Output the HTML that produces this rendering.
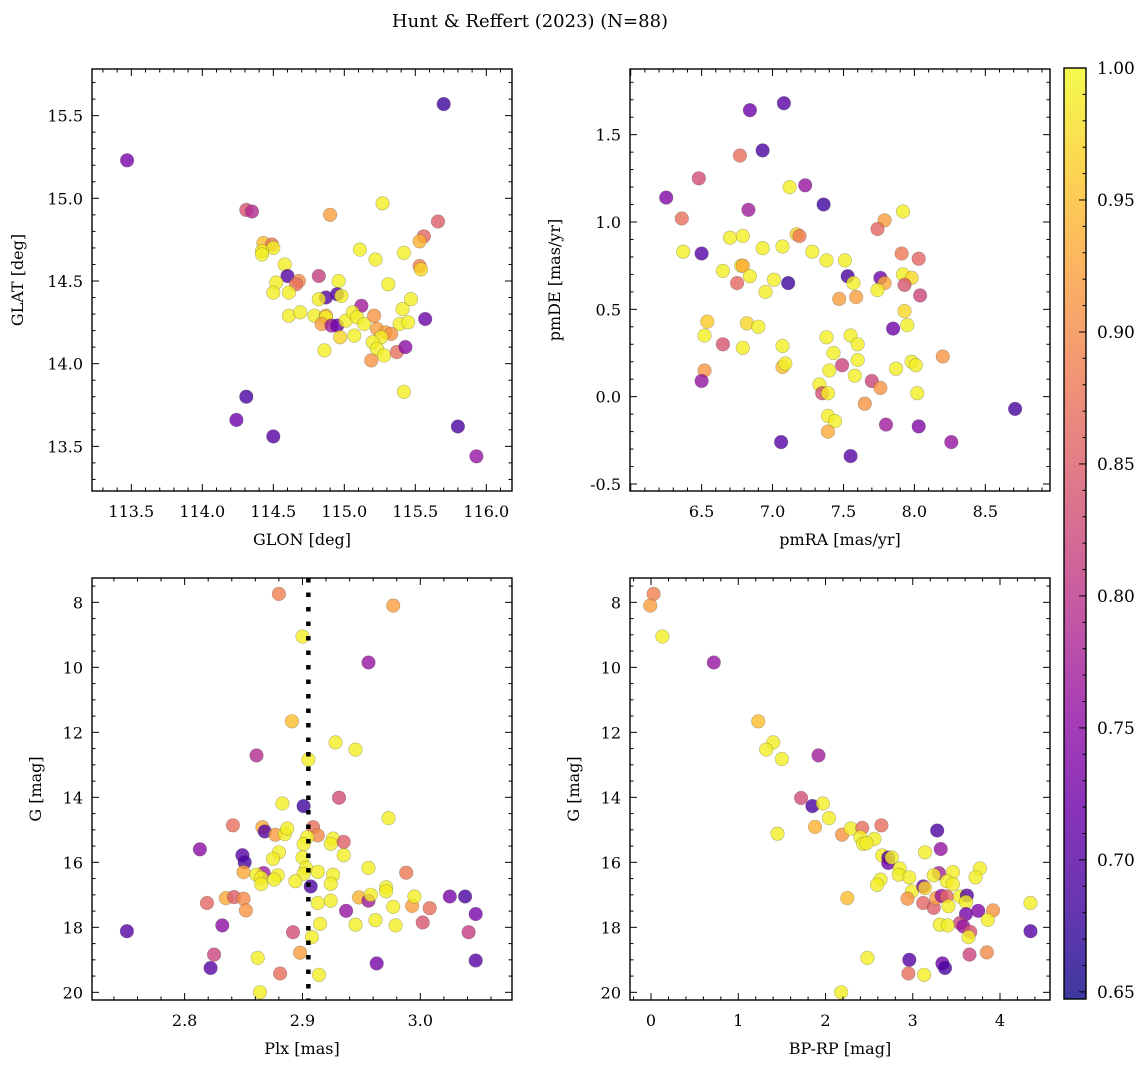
<!DOCTYPE html>
<html><head><meta charset="utf-8"><style>
html,body{margin:0;padding:0;background:#fff;}
svg{display:block;font-family:"DejaVu Serif","Liberation Serif",serif;}
</style></head><body>
<svg id="fig" width="1148" height="1068" viewBox="0 0 1148 1068" xmlns="http://www.w3.org/2000/svg">
<defs>
<linearGradient id="plasma" x1="0" y1="1" x2="0" y2="0">
<stop offset="0" stop-color="#0d0887"/><stop offset="0.1" stop-color="#41049d"/><stop offset="0.2" stop-color="#6a00a8"/><stop offset="0.3" stop-color="#8f0da4"/><stop offset="0.4" stop-color="#b12a90"/><stop offset="0.5" stop-color="#cc4778"/><stop offset="0.6" stop-color="#e16462"/><stop offset="0.7" stop-color="#f2844b"/><stop offset="0.8" stop-color="#fca636"/><stop offset="0.9" stop-color="#fcce25"/><stop offset="1" stop-color="#f0f921"/>
</linearGradient>
</defs>
<text x="530" y="27" font-size="18" text-anchor="middle">Hunt &amp; Reffert (2023) (N=88)</text>
</svg>
<script>
// ---- data: top-left GLON/GLAT ----
const glon=[113.47,115.70,114.31,114.35,115.27,114.90,115.66,115.56,115.53,115.11,115.22,115.42,115.53,115.54,114.43,114.49,114.50,114.42,114.42,114.58,114.60,114.68,114.66,114.52,114.50,114.61,114.82,114.96,114.87,114.95,114.98,114.82,115.12,115.31,115.47,115.41,115.57,115.39,115.45,114.61,114.69,114.79,114.87,114.87,114.84,114.91,114.95,115.01,115.06,115.09,115.14,115.21,115.23,115.29,115.33,115.26,115.20,115.07,114.97,114.86,115.23,115.28,115.19,115.37,115.43,115.42,114.31,114.24,114.50,115.80,115.93];
const glat=[15.23,15.57,14.93,14.92,14.97,14.90,14.86,14.77,14.74,14.69,14.63,14.67,14.59,14.57,14.73,14.72,14.70,14.68,14.66,14.60,14.53,14.50,14.48,14.49,14.43,14.43,14.53,14.50,14.40,14.42,14.41,14.39,14.35,14.48,14.39,14.33,14.27,14.24,14.25,14.29,14.31,14.29,14.29,14.28,14.24,14.23,14.23,14.26,14.31,14.28,14.24,14.29,14.21,14.19,14.18,14.16,14.13,14.17,14.16,14.08,14.09,14.05,14.02,14.07,14.10,13.83,13.80,13.66,13.56,13.62,13.44];
const probA=[0.73,0.68,0.84,0.79,0.99,0.92,0.85,0.86,0.94,0.99,0.99,0.99,0.89,0.97,0.95,0.88,0.99,0.99,0.99,0.99,0.70,0.90,0.87,0.99,0.99,0.99,0.81,0.99,0.70,0.70,0.99,0.99,0.77,0.99,0.99,0.99,0.72,0.99,0.99,0.99,0.99,0.99,0.94,0.99,0.92,0.77,0.72,0.99,0.99,0.99,0.99,0.91,0.92,0.92,0.91,0.99,0.99,0.99,0.97,0.99,0.99,0.99,0.91,0.87,0.75,0.99,0.69,0.72,0.70,0.69,0.76];
// ---- data: top-right pmRA/pmDE ----
const pmra=[6.25,6.84,7.08,6.93,6.77,6.48,7.12,7.23,7.36,6.83,6.36,7.92,7.79,7.74,6.70,6.79,6.93,7.07,7.17,7.19,7.28,7.38,7.51,6.37,6.50,6.65,6.78,6.79,6.84,6.75,7.01,6.95,7.11,7.53,7.57,7.47,7.59,7.76,7.79,7.74,7.91,8.03,7.92,7.98,7.93,8.04,7.93,7.95,7.85,6.54,6.52,6.65,6.82,6.90,6.79,7.07,6.52,6.50,7.07,7.09,7.38,7.55,7.60,7.43,7.60,7.49,7.40,7.58,7.70,7.76,7.87,7.98,8.01,8.20,8.02,7.33,7.35,7.39,7.65,7.39,7.44,7.39,7.80,8.03,8.26,7.06,7.55,8.71];
const pmde=[1.14,1.64,1.68,1.41,1.38,1.25,1.20,1.21,1.10,1.07,1.02,1.06,1.01,0.96,0.91,0.92,0.85,0.86,0.93,0.92,0.83,0.78,0.78,0.83,0.82,0.72,0.75,0.75,0.69,0.65,0.67,0.60,0.65,0.69,0.65,0.56,0.57,0.68,0.65,0.61,0.82,0.79,0.70,0.68,0.64,0.58,0.49,0.41,0.39,0.43,0.35,0.30,0.42,0.40,0.28,0.29,0.15,0.09,0.17,0.19,0.34,0.35,0.30,0.25,0.21,0.18,0.15,0.12,0.09,0.05,0.16,0.20,0.18,0.23,0.02,0.07,0.02,0.02,-0.04,-0.11,-0.14,-0.20,-0.16,-0.17,-0.26,-0.26,-0.34,-0.07];
const probB=[0.74,0.72,0.70,0.69,0.87,0.83,0.99,0.76,0.68,0.77,0.87,0.99,0.92,0.86,0.99,0.99,0.99,0.99,0.97,0.88,0.99,0.99,0.99,0.99,0.70,0.99,0.99,0.93,0.99,0.86,0.99,0.99,0.68,0.69,0.99,0.92,0.92,0.72,0.93,0.99,0.88,0.86,0.99,0.97,0.84,0.82,0.97,0.99,0.72,0.96,0.99,0.84,0.97,0.99,0.99,0.99,0.91,0.76,0.95,0.99,0.99,0.99,0.99,0.99,0.99,0.82,0.99,0.99,0.82,0.91,0.99,0.99,0.99,0.91,0.99,0.99,0.83,0.99,0.91,0.99,0.99,0.93,0.77,0.74,0.76,0.70,0.70,0.69];
// ---- data: bottom-left Plx/G ----
const plx=[2.751,2.880,2.977,2.900,2.956,2.891,2.861,2.928,2.945,2.905,2.931,2.973,2.901,2.883,2.841,2.866,2.868,2.877,2.885,2.887,2.909,2.913,2.904,2.901,2.926,2.924,2.935,2.935,2.813,2.849,2.851,2.880,2.875,2.900,2.903,2.901,2.913,2.926,2.924,2.956,2.988,2.850,2.867,2.861,2.865,2.865,2.879,2.876,2.894,2.907,2.819,2.835,2.842,2.850,2.852,2.832,2.913,2.924,2.937,2.948,2.956,2.958,2.971,2.971,2.977,2.993,2.995,3.008,3.025,3.038,3.047,3.041,3.047,3.002,2.979,2.962,2.945,2.915,2.908,2.892,2.898,2.914,2.881,2.862,2.864,2.825,2.822,2.963];
const gA=[18.12,7.74,8.10,9.05,9.85,11.66,12.71,12.31,12.53,12.84,14.01,14.64,14.27,14.19,14.86,14.92,15.05,15.15,15.13,14.96,14.92,15.17,15.23,15.44,15.27,15.43,15.37,15.78,15.60,15.78,16.00,15.69,15.89,15.85,16.17,16.35,16.29,16.38,16.66,16.17,16.32,16.30,16.33,16.38,16.48,16.67,16.40,16.53,16.58,16.74,17.25,17.10,17.07,17.12,17.48,17.94,17.25,17.18,17.49,17.08,17.18,17.00,16.77,16.89,17.37,17.34,17.05,17.41,17.05,17.05,17.59,18.15,19.02,17.85,17.94,17.78,17.92,17.89,18.30,18.15,18.78,19.46,19.42,18.94,20.00,18.84,19.25,19.11];
const probC=[0.70,0.89,0.92,0.99,0.76,0.95,0.79,0.99,0.99,0.99,0.83,0.99,0.68,0.99,0.87,0.93,0.70,0.92,0.99,0.99,0.87,0.90,0.99,0.99,0.99,0.99,0.85,0.99,0.75,0.70,0.69,0.99,0.99,0.99,0.99,0.99,0.99,0.99,0.99,0.99,0.88,0.93,0.77,0.99,0.99,0.99,0.99,0.99,0.99,0.69,0.86,0.93,0.85,0.90,0.91,0.75,0.99,0.99,0.76,0.94,0.77,0.99,0.99,0.99,0.99,0.92,0.99,0.87,0.73,0.69,0.73,0.81,0.70,0.84,0.99,0.99,0.99,0.99,0.99,0.83,0.92,0.99,0.87,0.99,0.99,0.82,0.70,0.73];
// ---- data: bottom-right BP-RP/G ----
const bprp=[0.03,-0.01,0.13,0.72,1.23,1.40,1.32,1.50,1.92,1.72,1.85,1.97,2.04,1.45,1.88,2.19,2.29,2.42,2.64,2.40,2.43,2.56,2.47,2.65,2.72,2.72,2.76,2.85,2.84,2.96,2.63,2.59,2.99,2.94,3.12,3.14,3.14,3.28,3.32,3.30,3.24,3.46,3.39,3.46,3.77,3.72,3.12,3.24,3.27,3.33,3.39,3.41,3.54,3.62,3.61,3.61,3.75,3.92,3.86,3.54,3.58,3.66,3.64,3.31,3.40,3.65,3.85,3.34,3.37,2.96,2.95,3.13,2.48,2.18,2.25,4.35,4.35];
const gB=[7.74,8.10,9.05,9.85,11.66,12.31,12.53,12.82,12.71,14.02,14.27,14.19,14.64,15.12,14.91,15.15,14.96,14.94,14.86,15.23,15.43,15.28,15.41,15.79,15.85,16.02,15.85,16.19,16.38,16.46,16.53,16.69,16.89,17.12,16.74,16.79,15.69,15.02,15.59,16.33,16.40,16.30,16.58,16.67,16.19,16.46,17.25,17.40,17.10,17.03,17.05,17.35,17.05,17.02,17.22,17.59,17.49,17.48,17.77,17.87,17.97,18.14,18.30,17.92,17.94,18.84,18.77,19.11,19.25,19.00,19.42,19.46,18.94,20.00,17.10,17.25,18.12];
const probD=[0.89,0.92,0.99,0.76,0.95,0.99,0.99,0.99,0.77,0.83,0.69,0.99,0.99,0.99,0.94,0.91,0.99,0.87,0.87,0.99,0.99,0.99,0.99,0.99,0.70,0.72,0.99,0.99,0.99,0.99,0.99,0.99,0.99,0.91,0.72,0.97,0.99,0.69,0.76,0.78,0.99,0.99,0.99,0.99,0.99,0.99,0.86,0.85,0.92,0.76,0.86,0.99,0.99,0.70,0.99,0.73,0.74,0.91,0.99,0.82,0.76,0.84,0.99,0.99,0.99,0.82,0.90,0.72,0.69,0.70,0.87,0.99,0.99,0.99,0.95,0.99,0.70];
const plxRef=[2.905];
const cbTicks=[0.65,0.70,0.75,0.80,0.85,0.90,0.95,1.00];

const NS='http://www.w3.org/2000/svg';
const svg=document.getElementById('fig');
function el(tag,attrs,parent){const e=document.createElementNS(NS,tag);for(const k in attrs)e.setAttribute(k,attrs[k]);(parent||svg).appendChild(e);return e;}
const stops=[[13,8,135],[65,4,157],[106,0,168],[143,13,164],[177,42,144],[204,71,120],[225,100,98],[242,132,75],[252,166,54],[252,206,37],[240,249,33]];
const CMIN=0.6473,CMAX=1.0;
function cmap(p){let t=(p-CMIN)/(CMAX-CMIN);t=Math.max(0,Math.min(1,t))*10;const i=Math.min(9,Math.floor(t)),f=t-i;const a=stops[i],b=stops[i+1];return 'rgb('+[0,1,2].map(k=>Math.round(a[k]+(b[k]-a[k])*f)).join(',')+')';}

function panel(cfg){
  const g=el('g',{});
  
  
  const L=cfg.L,R=cfg.R,T=cfg.T,B=cfg.B;
  const sx=v=>L+(v-cfg.x0)/(cfg.x1-cfg.x0)*(R-L);
  const sy=v=>B-(v-cfg.y0)/(cfg.y1-cfg.y0)*(B-T);
  const pts=el('g',{},g);
  
  
  cfg.xs.forEach((xv,i)=>{
    const c=el('circle',{cx:sx(xv).toFixed(1),cy:sy(cfg.ys[i]).toFixed(1),r:6.8,fill:cmap(cfg.ps[i]),'fill-opacity':0.8,stroke:'rgba(60,60,60,0.35)','stroke-width':0.6},pts);
    
    
  });
  if(cfg.extra)cfg.extra(g,sx,sy);
  const tk=el('g',{stroke:'#000','stroke-width':1},g);
  
  
  const eps=1e-9;
  const lo=Math.min(cfg.x0,cfg.x1),hi=Math.max(cfg.x0,cfg.x1);
  for(let v=Math.ceil(lo/cfg.xmin-eps)*cfg.xmin;v<=hi+eps;v+=cfg.xmin){
    const x=sx(v);const major=Math.abs(v/cfg.xmaj-Math.round(v/cfg.xmaj))<1e-6;const len=major?7:3.5;
    el('line',{x1:x,x2:x,y1:B,y2:B-len},tk);el('line',{x1:x,x2:x,y1:T,y2:T+len},tk);
  }
  const ylo=Math.min(cfg.y0,cfg.y1),yhi=Math.max(cfg.y0,cfg.y1);
  for(let v=Math.ceil(ylo/cfg.ymin-eps)*cfg.ymin;v<=yhi+eps;v+=cfg.ymin){
    const y=sy(v);const major=Math.abs(v/cfg.ymaj-Math.round(v/cfg.ymaj))<1e-6;const len=major?7:3.5;
    el('line',{x1:L,x2:L+len,y1:y,y2:y},tk);el('line',{x1:R,x2:R-len,y1:y,y2:y},tk);
  }
  cfg.xt.forEach(v=>{const t=el('text',{x:sx(v),y:B+26,'font-size':16,'text-anchor':'middle'},g);t.textContent=cfg.xfmt(v);});
  cfg.yt.forEach(v=>{const t=el('text',{x:L-9,y:sy(v)+6,'font-size':16,'text-anchor':'end'},g);t.textContent=cfg.yfmt(v);});
  el('rect',{x:L,y:T,width:R-L,height:B-T,fill:'none',stroke:'#000','stroke-width':1.4},g);
  const xl=el('text',{x:(L+R)/2,y:B+54,'font-size':16,'text-anchor':'middle'},g);xl.textContent=cfg.xlabel;
  
  const cy=(T+B)/2;
  const yl=el('text',{x:cfg.ylx,y:cy,'font-size':16,'text-anchor':'middle',transform:'rotate(-90 '+cfg.ylx+' '+cy+')'},g);yl.textContent=cfg.ylabel;
  
}
const f1=v=>v.toFixed(1),f0=v=>String(Math.round(v));
panel({name:'glon-glat-panel',L:92,R:512,T:69,B:491,x0:113.223,x1:116.181,y0:13.230,y1:15.782,xs:glon,ys:glat,ps:probA,
  xmaj:0.5,xmin:0.1,ymaj:0.5,ymin:0.1,xt:[113.5,114,114.5,115,115.5,116],yt:[13.5,14,14.5,15,15.5],xfmt:f1,yfmt:f1,xlabel:'GLON [deg]',ylabel:'GLAT [deg]',ylx:23});
panel({name:'pm-panel',L:630,R:1050,T:69,B:491,x0:5.995,x1:8.956,y0:-0.540,y1:1.876,xs:pmra,ys:pmde,ps:probB,
  xmaj:0.5,xmin:0.1,ymaj:0.5,ymin:0.1,xt:[6.5,7,7.5,8,8.5],yt:[-0.5,0,0.5,1,1.5],xfmt:f1,yfmt:f1,xlabel:'pmRA [mas/yr]',ylabel:'pmDE [mas/yr]',ylx:560});
panel({name:'plx-g-panel',L:92,R:512,T:578,B:1000,x0:2.7214,x1:3.0778,y0:20.236,y1:7.251,xs:plx,ys:gA,ps:probC,
  xmaj:0.1,xmin:0.02,ymaj:2,ymin:0.5,xt:[2.8,2.9,3.0],yt:[8,10,12,14,16,18,20],xfmt:f1,yfmt:f0,xlabel:'Plx [mas]',ylabel:'G [mag]',ylx:41,
  extra:(g,sx,sy)=>{const l=el('line',{x1:sx(plxRef[0]),x2:sx(plxRef[0]),y1:578,y2:1000,stroke:'#000','stroke-width':4.5,'stroke-dasharray':'4.5,10'},g);}});
panel({name:'cmd-panel',L:630,R:1050,T:578,B:1000,x0:-0.241,x1:4.573,y0:20.236,y1:7.251,xs:bprp,ys:gB,ps:probD,
  xmaj:1,xmin:0.2,ymaj:2,ymin:0.5,xt:[0,1,2,3,4],yt:[8,10,12,14,16,18,20],xfmt:f0,yfmt:f0,xlabel:'BP-RP [mag]',ylabel:'G [mag]',ylx:579});
const cb=el('g',{});


const cT=68,cB=999,cL=1064,cR=1086;
const cy=v=>cT+(CMAX-v)/(CMAX-CMIN)*(cB-cT);
el('rect',{x:cL,y:cT,width:cR-cL,height:cB-cT,fill:'url(#plasma)','fill-opacity':0.8},cb);
for(let v=0.65;v<=1.0001;v+=0.01){const y=cy(v);const maj=Math.abs(v*20-Math.round(v*20))<1e-6;el('line',{x1:cR,x2:cR-(maj?7:3.5),y1:y,y2:y,stroke:'#000','stroke-width':1},cb);}
cbTicks.forEach(v=>{const t=el('text',{x:cR+11,y:cy(v)+6,'font-size':17},cb);t.textContent=v.toFixed(2);});
el('rect',{x:cL,y:cT,width:cR-cL,height:cB-cT,fill:'none',stroke:'#000','stroke-width':1.4},cb);
</script>
</body></html>
